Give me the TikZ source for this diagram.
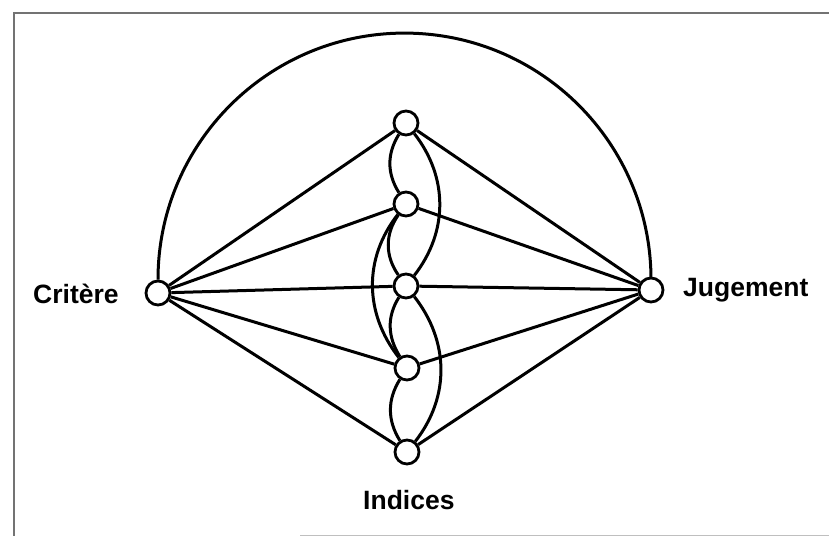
\documentclass[tikz,border=0pt]{standalone}
\usepackage{fontspec}
\setmainfont{Liberation Sans}
\usetikzlibrary{backgrounds}
\begin{document}
\begin{tikzpicture}[x=1pt,y=1pt,
  vert/.style={circle,draw,fill=white,line width=2.8pt,minimum size=24pt,inner sep=0pt},
  edge/.style={line width=3pt},
  lbl/.style={font=\fontsize{26.5}{30}\selectfont\bfseries,inner sep=0pt,anchor=base west},
  frame/.style={line width=1.4pt,draw=black!55}]
\useasboundingbox (0,0) rectangle (829,537);
\draw[frame] (14,1) -- (14,524) -- (829,524);
\draw[frame,draw=black!25] (300,1.5) -- (829,1.5);
% nodes
\node[vert] (C) at (158,244) {};
\node[vert] (J) at (651,247) {};
\node[vert] (N1) at (406,414) {};
\node[vert] (N2) at (406,333) {};
\node[vert] (N3) at (406,251) {};
\node[vert] (N4) at (407,169) {};
\node[vert] (N5) at (407,85) {};
\node[lbl] (lc) at (33,233) {Critère};
\node[lbl] (lj) at (683,240) {Jugement};
\node[lbl] (li) at (363,27) {Indices};
\begin{scope}[on background layer]
\draw[edge] (C.north) arc[start angle=180,end angle=0,radius=246.5pt];
\foreach \n in {N1,N2,N3,N4,N5}{
  \draw[edge] (C) -- (\n);
  \draw[edge] (J) -- (\n);
}
% small left bulges
\draw[edge] (N1) to[out=238,in=122] (N2);
\draw[edge] (N2) to[out=235,in=125] (N3);
\draw[edge] (N3) to[out=238,in=122] (N4);
\draw[edge] (N4) to[out=238,in=122] (N5);
% big bulges
\draw[edge] (N1) to[out=-52,in=52] (N3);
\draw[edge] (N3) to[out=-52,in=52] (N5);
\draw[edge] (N2) to[out=232,in=128] (N4);
\end{scope}
\end{tikzpicture}
\end{document}
